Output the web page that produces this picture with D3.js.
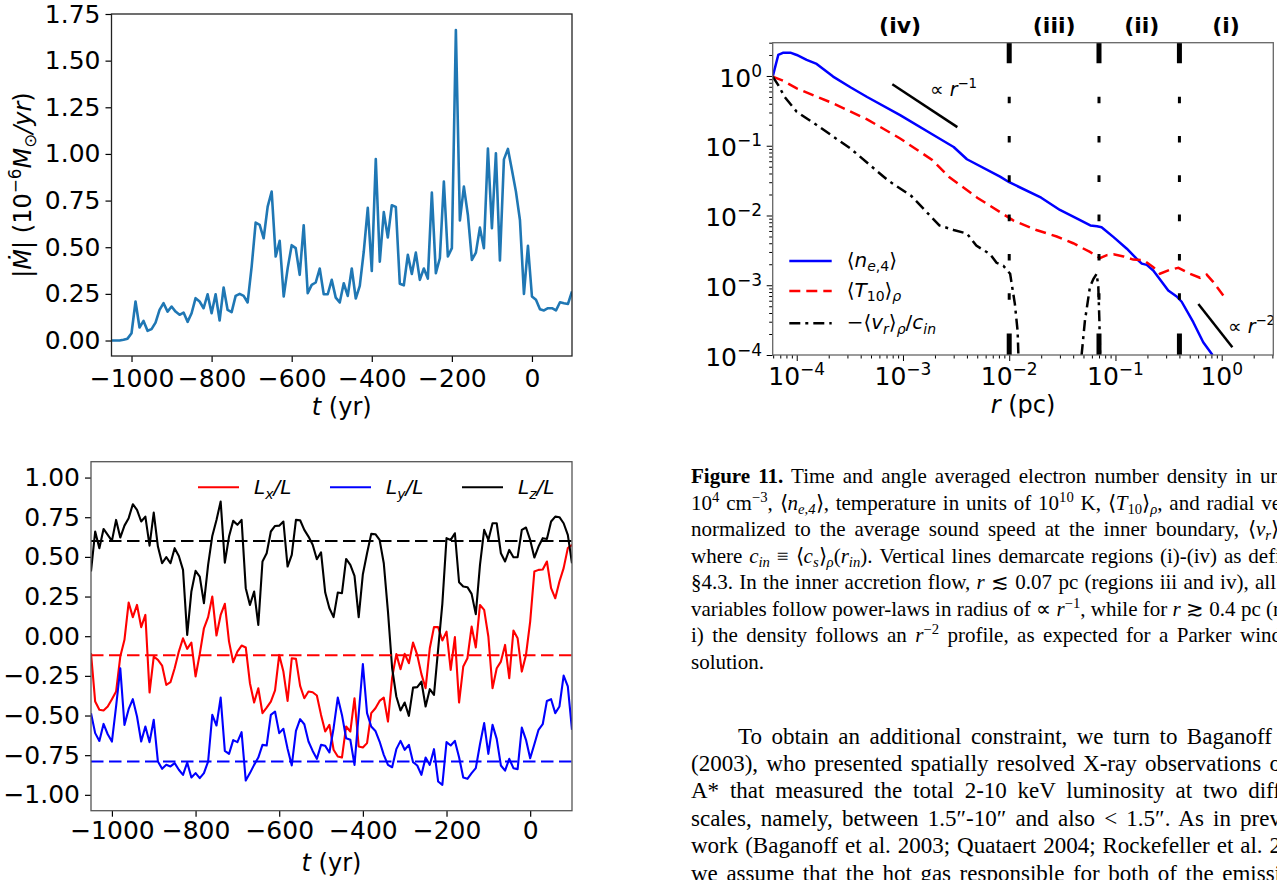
<!DOCTYPE html>
<html><head><meta charset="utf-8">
<script src="https://cdn.jsdelivr.net/npm/d3@7"></script>
<style>body{margin:0;background:#fff;} svg{display:block;}</style>
</head><body>
<svg id="c" width="1277" height="880"></svg>
<script>
// ---------------- DATA ----------------
const times = [-1050,-1040,-1030,-1020,-1010,-1000,-990,-980,-970,-960,-950,-940,-930,-920,-910,-900,-890,-880,-870,-860,-850,-840,-830,-820,-810,-800,-790,-780,-770,-760,-750,-740,-730,-720,-710,-700,-690,-680,-670,-660,-650,-640,-630,-620,-610,-600,-590,-580,-570,-560,-550,-540,-530,-520,-510,-500,-490,-480,-470,-460,-450,-440,-430,-420,-410,-400,-390,-380,-370,-360,-350,-340,-330,-320,-310,-300,-290,-280,-270,-260,-250,-240,-230,-220,-210,-200,-190,-180,-170,-160,-150,-140,-130,-120,-110,-100,-90,-80,-70,-60,-50,-40,-30,-20,-10,0,10,20,30,40,50,60,70,80,90,100];

const mdot = [0,0,0,0.004,0.010,0.039,
0.209,0.070,0.105,0.052,0.061,0.096,0.164,0.200,0.155,0.182,
0.155,0.138,0.150,0.100,0.146,0.227,0.209,0.173,0.248,0.146,
0.248,0.107,0.284,0.164,0.152,0.239,0.250,0.239,0.204,0.396,
0.632,0.620,0.548,0.718,0.798,0.450,0.534,0.236,0.388,0.511,
0.495,0.352,0.618,0.254,0.298,0.311,0.386,0.248,0.248,0.325,
0.230,0.204,0.307,0.239,0.386,0.225,0.293,0.477,0.711,0.373,
0.973,0.423,0.688,0.552,0.725,0.716,0.304,0.296,0.459,0.357,
0.471,0.325,0.386,0.332,0.793,0.361,0.441,0.852,0.450,0.495,
1.664,0.643,0.825,0.673,0.432,0.471,0.605,0.495,1.029,0.602,
1.004,0.429,0.971,1.027,0.914,0.798,0.646,0.250,0.507,0.236,
0.218,0.168,0.161,0.173,0.173,0.161,0.205,0.200,0.196,0.263];

const lz = [0.408,0.660,0.555,0.676,0.639,0.601,0.733,0.622,0.697,0.744,
0.832,0.796,0.723,0.754,0.571,0.779,0.565,0.460,0.498,0.460,
0.555,0.506,0.418,0.008,0.282,0.412,0.376,0.208,0.450,0.632,
0.733,0.849,0.464,0.628,0.727,0.702,0.733,0.303,0.197,0.282,
0.071,0.471,0.523,0.660,0.695,0.697,0.723,0.439,0.513,0.733,
0.731,0.670,0.628,0.576,0.485,0.529,0.275,0.176,0.120,0.275,
0.271,0.487,0.450,0.380,0.120,0.391,0.523,0.645,0.643,0.607,
0.460,0.155,-0.202,-0.380,-0.468,-0.418,-0.502,-0.324,-0.321,-0.286,
-0.443,-0.334,-0.370,-0.082,0.204,0.618,0.607,0.649,0.340,0.313,
0.309,0.267,0.139,0.450,0.670,0.607,0.712,0.712,0.523,0.471,
0.544,0.498,0.498,0.670,0.685,0.607,0.496,0.565,0.618,0.613,
0.723,0.754,0.750,0.712,0.639,0.460];

const lx = [-0.107,-0.412,-0.464,-0.468,-0.443,-0.397,-0.349,-0.128,-0.023,0.212,
0.120,0.197,0.057,0.134,-0.355,-0.128,-0.149,-0.185,-0.307,-0.290,
-0.202,-0.097,-0.013,-0.080,-0.040,-0.254,-0.113,0.050,0.120,0.250,
0.004,0.134,0.204,-0.034,-0.164,-0.097,-0.059,-0.071,-0.296,-0.418,
-0.328,-0.485,-0.450,-0.412,-0.342,-0.118,-0.223,-0.408,-0.139,-0.143,
-0.313,-0.391,-0.349,-0.353,-0.374,-0.496,-0.601,-0.559,-0.716,-0.758,
-0.765,-0.569,-0.601,-0.391,-0.695,-0.702,-0.674,-0.485,-0.454,-0.408,
-0.387,-0.538,-0.261,-0.113,-0.208,-0.111,-0.170,-0.040,-0.118,-0.239,
-0.328,-0.076,0.057,0.057,-0.027,0.029,-0.212,-0.006,-0.418,-0.191,
-0.139,0.061,-0.071,0.197,0.166,-0.002,-0.328,-0.202,-0.160,-0.055,
-0.265,0.036,-0.013,-0.223,-0.118,0.092,0.408,0.418,0.420,0.471,
0.303,0.239,0.345,0.429,0.555,0.576];

const ly = [-0.485,-0.611,-0.660,-0.553,-0.618,-0.664,-0.443,-0.202,-0.559,-0.460,
-0.397,-0.506,-0.664,-0.569,-0.668,-0.527,-0.790,-0.836,-0.811,-0.821,
-0.800,-0.842,-0.874,-0.796,-0.891,-0.863,-0.895,-0.863,-0.790,-0.496,
-0.563,-0.387,-0.723,-0.742,-0.655,-0.668,-0.605,-0.910,-0.863,-0.811,
-0.765,-0.685,-0.689,-0.496,-0.475,-0.611,-0.584,-0.710,-0.815,-0.597,
-0.523,-0.555,-0.664,-0.723,-0.773,-0.685,-0.691,-0.733,-0.580,-0.387,
-0.496,-0.643,-0.653,-0.811,-0.492,-0.176,-0.485,-0.569,-0.597,-0.664,
-0.748,-0.811,-0.826,-0.712,-0.660,-0.716,-0.685,-0.794,-0.815,-0.874,
-0.765,-0.811,-0.712,-0.916,-0.937,-0.668,-0.689,-0.660,-0.763,-0.891,
-0.899,-0.863,-0.832,-0.681,-0.548,-0.742,-0.559,-0.647,-0.815,-0.847,
-0.773,-0.832,-0.838,-0.576,-0.653,-0.769,-0.681,-0.590,-0.555,-0.408,
-0.397,-0.485,-0.443,-0.248,-0.317,-0.590];

const lMeans = [-0.12, -0.79, 0.60];        // Lx, Ly, Lz time means
const lNames = ["x", "y", "z"];
const lColors = ["#ff0000", "#0000ff", "#000000"];

const mdotTicks = [0, 0.25, 0.5, 0.75, 1.0, 1.25, 1.5, 1.75];
const tTicks = [-1000, -800, -600, -400, -200, 0];
const lTicks = [-1, -0.75, -0.5, -0.25, 0, 0.25, 0.5, 0.75, 1];

// radial profiles (r in pc)
const rNe = [5.94e-5,6.7e-5,7.5e-5,8.7e-5,1.0e-4,1.24e-4,1.54e-4,2.2e-4,3.2e-4,4.6e-4,9.4e-4,1.9e-3,3.0e-3,4.0e-3,8.2e-3,0.01,0.02,0.03,0.045,0.058,0.067,0.074,0.096,0.128,0.158,0.177,0.197,0.227,0.314,0.377,0.42,0.54,0.67,0.82];
const neVals = [0.98,2.0,2.16,2.16,2.0,1.70,1.49,0.98,0.69,0.50,0.275,0.145,0.096,0.064,0.036,0.030,0.018,0.012,0.0088,0.0072,0.0070,0.0068,0.0049,0.00334,0.0024,0.00204,0.00196,0.00163,0.00084,0.00069,0.00058,0.000295,0.000152,0.0001];
const rT = [5.94e-5,7.5e-5,1.0e-4,2.2e-4,4.6e-4,9.4e-4,1.9e-3,2.7e-3,5e-3,0.0109,0.018,0.028,0.04,0.0575,0.0716,0.083,0.096,0.119,0.147,0.183,0.227,0.262,0.326,0.391,0.503,0.625,0.722,0.834,1.035];
const tVals = [0.98,0.85,0.665,0.405,0.239,0.127,0.062,0.036,0.018,0.0085,0.0062,0.0050,0.0040,0.0030,0.00245,0.0027,0.00277,0.00259,0.00233,0.0023,0.00182,0.00146,0.00167,0.00178,0.00146,0.00128,0.00142,0.00111,0.000713];
const rVr1 = [5.94e-5,6.7e-5,7.7e-5,1.0e-4,1.54e-4,3.2e-4,7.2e-4,1.2e-3,2.2e-3,3.0e-3,4.0e-3,4.9e-3,6.6e-3,7.6e-3,8.8e-3,0.0102,0.0113,0.0120,0.0122];
const vr1Vals = [0.98,0.74,0.50,0.307,0.198,0.0914,0.032,0.019,0.0072,0.0062,0.0055,0.0037,0.0028,0.0021,0.0019,0.00146,0.00054,0.00022,0.0001];
const rVr2 = [0.048,0.0516,0.0575,0.0621,0.0666,0.069,0.0706,0.0716];
const vr2Vals = [0.0001,0.00031,0.00094,0.00124,0.00146,0.00094,0.00031,0.0001];
const regionBounds = [0.01, 0.07, 0.4];
const regionLabels = ["(iv)", "(iii)", "(ii)", "(i)"];
const regionLabelR = [9.4e-4, 0.0265, 0.177, 1.1];
const slope1R = [7.94e-4, 3.25e-3], slope1V = [0.76, 0.185];
const slope2R = [0.603, 1.26],      slope2V = [5.4e-4, 1.29e-4];
const logMajor = [1e-4, 1e-3, 1e-2, 1e-1, 1];

// ---------------- HELPERS ----------------
const svg = d3.select('#c');
svg.append('rect').attr('width',1277).attr('height',880).attr('fill','#fff');
const SANS = "'DejaVu Sans', sans-serif";
const SERIF = "'Liberation Serif', 'Times New Roman', serif";

function rich(parent, x, y, segs, o) {
  o = o || {};
  const size = o.size || 20;
  const t = parent.append('text').attr('x', x).attr('y', y)
    .attr('font-family', o.family || SANS).attr('font-size', size).attr('fill', '#000');
  if (o.anchor) t.attr('text-anchor', o.anchor);
  if (o.weight) t.attr('font-weight', o.weight);
  let cur = 0;
  segs.forEach(s => {
    const f = s[1] || '';
    const sp = t.append('tspan').text(s[0]);
    let shift = 0, fs = size;
    if (f.includes('^')) { shift = -(o.supShift || 0.42) * size; fs = (o.scriptScale || 0.7) * size; }
    if (f.includes('_')) { shift = (o.subShift || 0.22) * size; fs = (o.scriptScale || 0.7) * size; }
    if (f.includes('i')) sp.attr('font-style', 'italic');
    if (f.includes('b')) sp.attr('font-weight', 'bold');
    sp.attr('font-size', fs);
    if (shift !== cur) { sp.attr('dy', shift - cur); cur = shift; }
  });
  if (o.justifyTo) {
    const w = t.node().getComputedTextLength();
    const n = segs.map(s => s[0]).join('').split(' ').length - 1;
    if (n > 0) t.style('word-spacing', ((o.justifyTo - x - w) / n) + 'px');
  }
  return t;
}
function styleAxis(sel, fs) {
  sel.select('.domain').remove();
  sel.selectAll('.tick line').attr('stroke', '#000').attr('stroke-width', 1.2);
  sel.selectAll('.tick text').attr('font-family', SANS).attr('font-size', fs).attr('fill', '#000');
}
function clip(id, x, y, w, h) {
  svg.append('clipPath').attr('id', id).append('rect').attr('x', x).attr('y', y).attr('width', w).attr('height', h);
  return 'url(#' + id + ')';
}

// ---------------- PANEL 1: Mdot ----------------
{
  const L = 111.5, R = 572, T = 14, B = 356;
  const g = svg.append('g');
  const x = d3.scaleLinear().domain([-1050, 100]).range([L, R]);
  const y = d3.scaleLinear().domain([-0.083, 1.75]).range([B, T]);
  g.append('g').attr('transform', `translate(0,${B})`)
    .call(d3.axisBottom(x).tickValues(tTicks).tickSize(6).tickPadding(7).tickFormat(d3.format('d')))
    .call(styleAxis, 25);
  g.append('g').attr('transform', `translate(${L},0)`)
    .call(d3.axisLeft(y).tickValues(mdotTicks).tickSize(6).tickPadding(5).tickFormat(d3.format('.2f')))
    .call(styleAxis, 25);
  g.append('path').datum(mdot).attr('clip-path', clip('c1', L, T, R - L, B - T))
    .attr('fill', 'none').attr('stroke', '#1f77b4').attr('stroke-width', 2.6).attr('stroke-linejoin', 'round')
    .attr('d', d3.line().x((d, i) => x(times[i])).y(d => y(d)));
  g.append('rect').attr('x', L).attr('y', T).attr('width', R - L).attr('height', B - T)
    .attr('fill', 'none').attr('stroke', '#222').attr('stroke-width', 1.3);
  rich(g, (L + R) / 2, 415, [["t", "i"], [" (yr)"]], { anchor: 'middle', size: 24 });
  const yl = g.append('g').attr('transform', `translate(31,${(T + B) / 2}) rotate(-90)`);
  rich(yl, 0, 0, [["|"], ["Ṁ", "i"], ["| (10"], ["−6", "^"], ["M", "i"], ["⊙", "_"], ["/", "i"], ["yr", "i"], [")"]], { anchor: 'middle', size: 24 });
}

// ---------------- PANEL 2: L components ----------------
{
  const L = 91, R = 572, T = 461.7, B = 810.7;
  const g = svg.append('g');
  const x = d3.scaleLinear().domain([-1050, 100]).range([L, R]);
  const y = d3.scaleLinear().domain([-1.1, 1.1]).range([B, T]);
  g.append('g').attr('transform', `translate(0,${B})`)
    .call(d3.axisBottom(x).tickValues(tTicks).tickSize(6).tickPadding(5).tickFormat(d3.format('d')))
    .call(styleAxis, 25);
  g.append('g').attr('transform', `translate(${L},0)`)
    .call(d3.axisLeft(y).tickValues(lTicks).tickSize(6).tickPadding(5).tickFormat(d3.format('.2f')))
    .call(styleAxis, 25);
  const cp = clip('c2', L, T, R - L, B - T);
  const series = [lx, ly, lz];
  const line = d3.line().x((d, i) => x(times[i])).y(d => y(d));
  series.forEach((s, k) => {
    g.append('path').datum(s).attr('clip-path', cp).attr('fill', 'none')
      .attr('stroke', lColors[k]).attr('stroke-width', 2.1).attr('stroke-linejoin', 'round').attr('d', line);
  });
  lMeans.forEach((m, k) => {
    g.append('line').attr('x1', L).attr('x2', R).attr('y1', y(m)).attr('y2', y(m))
      .attr('stroke', lColors[k]).attr('stroke-width', 2.1).attr('stroke-dasharray', '12.5,5.5');
  });
  g.append('rect').attr('x', L).attr('y', T).attr('width', R - L).attr('height', B - T)
    .attr('fill', 'none').attr('stroke', '#555').attr('stroke-width', 1.3);
  // legend
  const lgX = [198, 330, 462], lgY = 487.3;
  lNames.forEach((n, k) => {
    g.append('line').attr('x1', lgX[k]).attr('x2', lgX[k] + 41).attr('y1', lgY).attr('y2', lgY)
      .attr('stroke', lColors[k]).attr('stroke-width', 2.1);
    rich(g, lgX[k] + 56, lgY + 7, [["L", "i"], [n, "_i"], ["/L", "i"]], { size: 20 });
  });
  rich(g, (L + R) / 2, 871, [["t", "i"], [" (yr)"]], { anchor: 'middle', size: 24 });
}

// ---------------- PANEL 3: radial profiles ----------------
{
  const L = 772.7, R = 1273.3, T = 42.7, B = 355;
  const g = svg.append('g');
  const x = d3.scaleLog().domain([5.94e-5, 3.06]).range([L, R]);
  const y = d3.scaleLog().domain([1e-4, 3.0]).range([B, T]);
  const minorY = [], minorX = [];
  for (let d = -4; d <= 0; d++) for (let k = 2; k <= 9; k++) { const v = k * Math.pow(10, d); if (v <= 3.0) minorY.push(v); }
  for (let d = -5; d <= 0; d++) for (let k = 2; k <= 9; k++) { const v = k * Math.pow(10, d); if (v >= 5.94e-5 && v <= 3.06) minorX.push(v); }
  g.append('g').attr('transform', `translate(0,${B})`).call(d3.axisBottom(x).tickValues(logMajor).tickSize(6).tickFormat('')).call(styleAxis, 1);
  g.append('g').attr('transform', `translate(0,${B})`).call(d3.axisBottom(x).tickValues(minorX).tickSize(3.5).tickFormat('')).call(styleAxis, 1);
  g.append('g').attr('transform', `translate(${L},0)`).call(d3.axisLeft(y).tickValues(logMajor).tickSize(6).tickFormat('')).call(styleAxis, 1);
  g.append('g').attr('transform', `translate(${L},0)`).call(d3.axisLeft(y).tickValues(minorY).tickSize(3.5).tickFormat('')).call(styleAxis, 1);
  g.selectAll('.tick line').attr('stroke-width', 1);
  const expStr = v => { const e = Math.round(Math.log10(v)); return (e < 0 ? '−' : '') + Math.abs(e); };
  logMajor.forEach(v => {
    rich(g, 762, y(v) + 10.7, [["10"], [expStr(v), "^"]], { anchor: 'end', size: 25, supShift: 0.4, scriptScale: 0.68 });
    rich(g, x(v), 385, [["10"], [expStr(v), "^"]], { anchor: 'middle', size: 25, supShift: 0.4, scriptScale: 0.68 });
  });
  const cp = clip('c3', L, T, R - L, B - T);
  const ln = (rs) => d3.line().x((d, i) => x(rs[i])).y(d => y(d));
  g.append('path').datum(neVals).attr('clip-path', cp).attr('fill', 'none').attr('stroke', '#0000ff')
    .attr('stroke-width', 2.5).attr('stroke-linejoin', 'round').attr('d', ln(rNe));
  g.append('path').datum(tVals).attr('clip-path', cp).attr('fill', 'none').attr('stroke', '#ff0000')
    .attr('stroke-width', 2.5).attr('stroke-dasharray', '11,6').attr('d', ln(rT));
  [[rVr1, vr1Vals], [rVr2, vr2Vals]].forEach(p => {
    g.append('path').datum(p[1]).attr('clip-path', cp).attr('fill', 'none').attr('stroke', '#000')
      .attr('stroke-width', 2.5).attr('stroke-dasharray', '11,5,3,5').attr('d', ln(p[0]));
  });
  // region boundaries
  regionBounds.forEach(b => {
    const xv = x(b);
    g.append('line').attr('x1', xv).attr('x2', xv).attr('y1', T).attr('y2', B)
      .attr('stroke', '#000').attr('stroke-width', 5).attr('stroke-dasharray', '20.5,270.3,22');
    g.append('line').attr('x1', xv).attr('x2', xv).attr('y1', 96.7).attr('y2', 303)
      .attr('stroke', '#000').attr('stroke-width', 3).attr('stroke-dasharray', '6.6,32.7');
  });
  regionLabels.forEach((lab, i) => {
    g.append('text').attr('x', x(regionLabelR[i])).attr('y', 33).attr('text-anchor', 'middle')
      .attr('font-family', SANS).attr('font-weight', 'bold').attr('font-size', 22).text(lab);
  });
  // power-law guides
  g.append('line').attr('x1', x(slope1R[0])).attr('y1', y(slope1V[0])).attr('x2', x(slope1R[1])).attr('y2', y(slope1V[1]))
    .attr('stroke', '#000').attr('stroke-width', 2.5);
  g.append('line').attr('x1', x(slope2R[0])).attr('y1', y(slope2V[0])).attr('x2', x(slope2R[1])).attr('y2', y(slope2V[1]))
    .attr('stroke', '#000').attr('stroke-width', 2.5);
  rich(g, 930, 96, [["∝ "], ["r", "i"], ["−1", "^"]], { size: 19 });
  rich(g, 1228, 333, [["∝ "], ["r", "i"], ["−2", "^"]], { size: 19 });
  g.append('rect').attr('x', L).attr('y', T).attr('width', R - L).attr('height', B - T)
    .attr('fill', 'none').attr('stroke', '#666').attr('stroke-width', 1.3);
  // legend
  const lx0 = 789.3, lx1 = 831.7, ys = [261, 291, 323.3];
  g.append('line').attr('x1', lx0).attr('x2', lx1).attr('y1', ys[0]).attr('y2', ys[0]).attr('stroke', '#0000ff').attr('stroke-width', 2.5);
  g.append('line').attr('x1', lx0).attr('x2', lx1).attr('y1', ys[1]).attr('y2', ys[1]).attr('stroke', '#ff0000').attr('stroke-width', 2.5).attr('stroke-dasharray', '11,6');
  g.append('line').attr('x1', lx0).attr('x2', lx1).attr('y1', ys[2]).attr('y2', ys[2]).attr('stroke', '#000').attr('stroke-width', 2.5).attr('stroke-dasharray', '11,5,3,5');
  rich(g, 846.7, ys[0] + 6, [["⟨"], ["n", "i"], ["e", "_i"], [",4", "_"], ["⟩"]], { size: 20 });
  rich(g, 846.7, ys[1] + 6, [["⟨"], ["T", "i"], ["10", "_"], ["⟩"], ["ρ", "_i"]], { size: 20 });
  rich(g, 846.7, ys[2] + 6, [["−⟨"], ["v", "i"], ["r", "_i"], ["⟩"], ["ρ", "_i"], ["/"], ["c", "i"], ["in", "_i"]], { size: 20 });
  rich(g, (L + R) / 2, 413, [["r", "i"], [" (pc)"]], { anchor: 'middle', size: 24 });
}

// ---------------- CAPTION & BODY TEXT ----------------
{
  const g = svg.append('g');
  const cap = [
    [["Figure 11.", "b"], [" Time and angle averaged electron number density in un"]],
    [["10"], ["4", "^"], [" cm"], ["−3", "^"], [", ⟨"], ["n", "i"], ["e,4", "_i"], ["⟩, temperature in units of 10"], ["10", "^"], [" K, ⟨"], ["T", "i"], ["10", "_"], ["⟩"], ["ρ", "_i"], [", and radial ve"]],
    [["normalized to the average sound speed at the inner boundary, ⟨"], ["v", "i"], ["r", "_i"], ["⟩"]],
    [["where "], ["c", "i"], ["in", "_i"], [" ≡ ⟨"], ["c", "i"], ["s", "_i"], ["⟩"], ["ρ", "_i"], ["("], ["r", "i"], ["in", "_i"], ["). Vertical lines demarcate regions (i)-(iv) as defi"]],
    [["§4.3. In the inner accretion flow, "], ["r", "i"], [" ≲ 0.07 pc (regions iii and iv), all"]],
    [["variables follow power-laws in radius of ∝ "], ["r", "i"], ["−1", "^"], [", while for "], ["r", "i"], [" ≳ 0.4 pc (r"]],
    [["i) the density follows an "], ["r", "i"], ["−2", "^"], [" profile, as expected for a Parker wind"]],
    [["solution."]]
  ];
  const capEnds = [1281, 1281, 1279, 1281, 1276, 1280, 1282, null];
  cap.forEach((segs, i) => {
    rich(g, 691, 483 + i * 26.5, segs, { family: SERIF, size: 21, supShift: 0.38, subShift: 0.2, justifyTo: capEnds[i] });
  });
  const body = [
    "To obtain an additional constraint, we turn to Baganoff",
    "(2003), who presented spatially resolved X-ray observations o",
    "A* that measured the total 2-10 keV luminosity at two diff",
    "scales, namely, between 1.5″-10″ and also < 1.5″. As in prev",
    "work (Baganoff et al. 2003; Quataert 2004; Rockefeller et al. 2",
    "we assume that the hot gas responsible for both of the emissi"
  ];
  const bodyEnds = [1272, 1281, 1281, 1281, 1281, 1281];
  body.forEach((s, i) => {
    const x0 = i === 0 ? 738 : 691;
    rich(g, x0, 743.5 + i * 27.4, [[s]], { family: SERIF, size: 23, justifyTo: bodyEnds[i] });
  });
}
</script>
</body></html>
